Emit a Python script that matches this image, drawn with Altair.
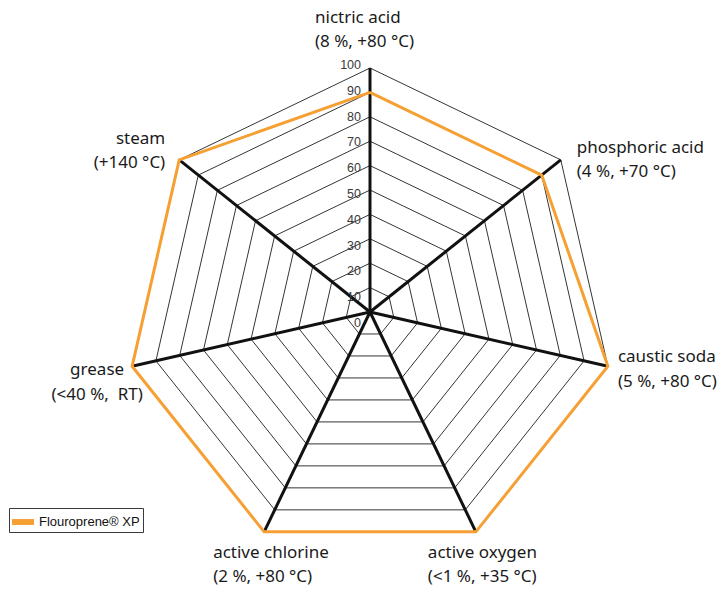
import altair as alt
import pandas as pd

# ---------------- data ----------------
category_names = ["nictric acid", "phosphoric acid", "caustic soda", "active oxygen",
                  "active chlorine", "grease", "steam"]
category_conditions = ["(8 %, +80 °C)", "(4 %, +70 °C)", "(5 %, +80 °C)", "(<1 %, +35 °C)",
                       "(2 %, +80 °C)", "(<40 %,\u00a0 RT)", "(+140 °C)"]
series_name = "Flouroprene® XP"
series_values = [90, 90, 100, 100, 100, 100, 100]
grid_levels = [10, 20, 30, 40, 50, 60, 70, 80, 90, 100]
tick_values = [0, 10, 20, 30, 40, 50, 60, 70, 80, 90, 100]

N = len(category_names)
ORANGE = "#F6A033"
FONT = "Noto Sans"

# ---------------- tables ----------------
grid_df = pd.DataFrame([{"level": lv, "k": k, "r": lv} for lv in grid_levels for k in range(N + 1)])
spoke_df = pd.DataFrame({"k": list(range(N)), "r": [max(grid_levels)] * N})
series_df = pd.DataFrame({"k": list(range(N + 1)),
                          "r": [series_values[k % N] for k in range(N + 1)],
                          "series": [series_name] * (N + 1)})
tick_df = pd.DataFrame({"v": tick_values, "label": [str(v) for v in tick_values]})
label_df = pd.DataFrame({"k": list(range(N)),
                         "r": [max(grid_levels)] * N,
                         "text": [f"{a}\n{b}" for a, b in zip(category_names, category_conditions)]})

# ---------------- scales (center of radar at pixel 370,312; 100 -> 244 px) ----------------
W, H = 723, 592
CX, CY, R100 = 370, 312, 244
ppu = R100 / 100.0
xs = alt.Scale(domain=[-CX / ppu, (W - CX) / ppu], nice=False, zero=False)
ys = alt.Scale(domain=[-(H - CY) / ppu, CY / ppu], nice=False, zero=False)

px_expr = f"datum.r * sin(2 * PI * datum.k / {N})"
py_expr = f"datum.r * cos(2 * PI * datum.k / {N})"


def X(f="px"):
    return alt.X(f"{f}:Q", scale=xs, axis=None)


def Y(f="py"):
    return alt.Y(f"{f}:Q", scale=ys, axis=None)


grid = alt.Chart(grid_df).transform_calculate(px=px_expr, py=py_expr).mark_line(
    color="black", strokeWidth=0.8, strokeJoin="miter"
).encode(x=X(), y=Y(), order="k:Q", detail="level:N")

spokes = alt.Chart(spoke_df).transform_calculate(px=px_expr, py=py_expr, x0="0", y0="0").mark_rule(
    color="#111111", strokeWidth=3
).encode(x=X("x0"), y=Y("y0"), x2="px:Q", y2="py:Q")

series = alt.Chart(series_df).transform_calculate(px=px_expr, py=py_expr).mark_line(
    strokeWidth=3, strokeJoin="miter"
).encode(
    x=X(), y=Y(), order="k:Q",
    color=alt.Color("series:N",
                    scale=alt.Scale(domain=[series_name], range=[ORANGE]),
                    legend=alt.Legend(title=None, orient="none", legendX=9, legendY=508,
                                      strokeColor="#3a3a3a", padding=3,
                                      symbolType="M-1,-0.27H1V0.27H-1Z", symbolSize=484,
                                      symbolFillColor=ORANGE, symbolStrokeWidth=0,
                                      labelFont="Liberation Sans", labelFontSize=13,
                                      labelColor="#111111", labelOffset=5)),
)

ticks = alt.Chart(tick_df).transform_calculate(
    px="0", py=f"(datum.v * 2.58 - 11) / {ppu}"
).mark_text(align="right", baseline="middle", dx=-9, font="Liberation Sans",
            fontSize=12.5, color="#3a3a3a").encode(x=X(), y=Y(), text="label:N")

# per-category label placement (align, dx, dy in pixels; dy is for the first line)
LH = 24.5
label_place = [("left", -55, -38), ("left", 16, 0), ("left", 10, 3), ("left", -48, 33),
               ("left", -51, 33), ("center", -35, 16), ("right", -14, -9)]
label_layers = []
for k, (al, dx, dy) in enumerate(label_place):
    label_layers.append(
        alt.Chart(label_df).transform_filter(f"datum.k == {k}").transform_calculate(
            px=px_expr, py=py_expr
        ).mark_text(align=al, baseline="middle", dx=dx, dy=dy - LH / 2, lineBreak="\n",
                    lineHeight=LH, font=FONT, fontSize=17, color="#1a1a1a"
                    ).encode(x=X(), y=Y(), text="text:N")
    )

chart = alt.layer(grid, spokes, series, ticks, *label_layers).properties(
    width=W, height=H, padding=0, autosize=alt.AutoSizeParams(type="none")
).configure_view(stroke=None)

chart.save("out.html", embed_options={"renderer": "svg", "actions": False})
